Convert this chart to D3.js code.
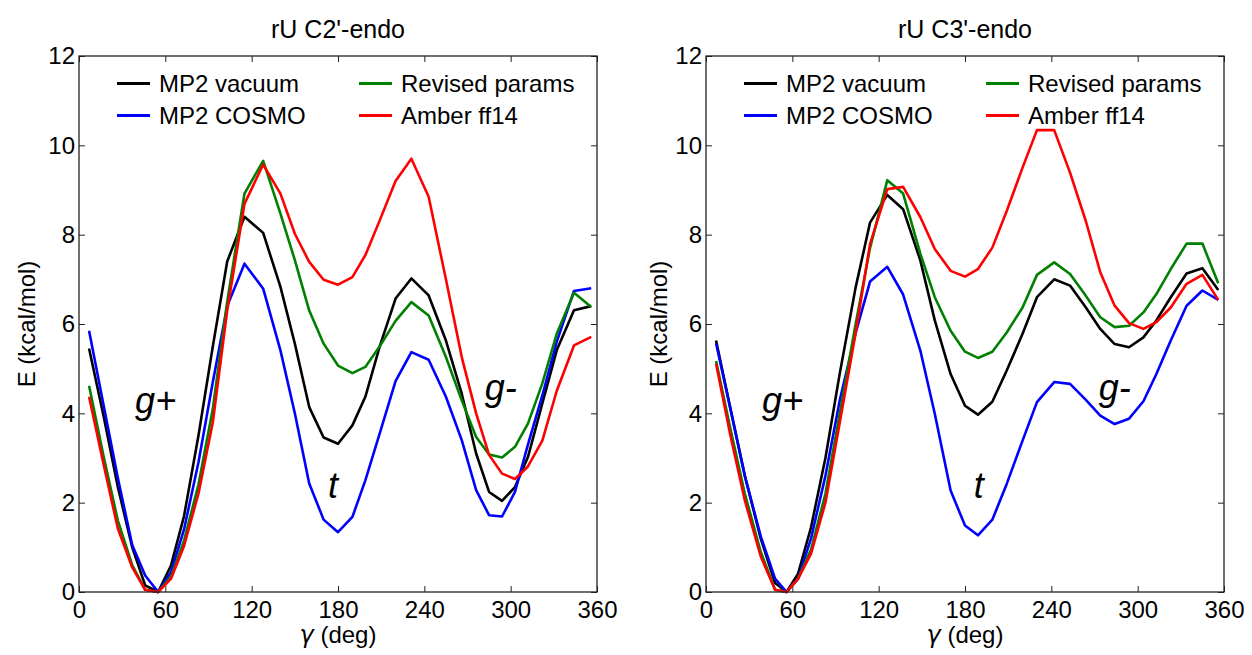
<!DOCTYPE html>
<html>
<head>
<meta charset="utf-8">
<script src="https://cdn.jsdelivr.net/npm/d3@7"></script>
<style>
  body { margin: 0; background: #fff; }
  text { font-family: "Liberation Sans", Arial, sans-serif; }
</style>
</head>
<body>
<div id="chart"></div>
<script>
var width = 1252,
    height = 655;

// gamma grid and energies (kcal/mol)
var gammaC2 = [7, 17, 27, 37, 46, 55, 64, 73, 83, 93, 103, 115, 128, 140, 150, 160, 170, 180, 190, 199,
               209, 220, 231, 243, 255, 266, 276, 285, 294, 303, 312, 322, 332, 344, 356];
var vacuumC2 = [5.45, 3.95, 2.35, 1.0, 0.15, 0.0, 0.6, 1.7, 3.5, 5.5, 7.4, 8.4, 8.04, 6.83, 5.56, 4.14, 3.46, 3.32, 3.73, 4.37,
                5.5, 6.57, 7.02, 6.64, 5.63, 4.44, 3.1, 2.24, 2.04, 2.35, 3.02, 4.22, 5.41, 6.31, 6.4];
var cosmoC2 = [5.85, 4.2, 2.55, 1.05, 0.37, 0.0, 0.45, 1.4, 2.9, 4.7, 6.4, 7.35, 6.79, 5.41, 4.0, 2.43, 1.62, 1.34, 1.68, 2.5,
               3.55, 4.72, 5.37, 5.2, 4.37, 3.4, 2.28, 1.72, 1.69, 2.24, 3.3, 4.4, 5.6, 6.74, 6.8];
var revisedC2 = [4.62, 3.05, 1.6, 0.6, 0.05, 0.0, 0.35, 1.15, 2.4, 4.1, 6.5, 8.92, 9.65, 8.47, 7.43, 6.3, 5.56, 5.07, 4.9, 5.04,
                 5.5, 6.07, 6.49, 6.19, 5.26, 4.29, 3.47, 3.08, 3.01, 3.25, 3.77, 4.67, 5.78, 6.7, 6.38];
var amberC2 = [4.37, 2.87, 1.42, 0.55, 0.05, 0.0, 0.3, 1.03, 2.2, 3.8, 6.3, 8.69, 9.57, 8.92, 8.02, 7.39, 6.99, 6.88, 7.05, 7.54,
               8.32, 9.2, 9.7, 8.85, 7.0, 5.26, 4.0, 3.07, 2.65, 2.53, 2.81, 3.39, 4.5, 5.52, 5.71];

var gammaC3 = [7, 17, 27, 38, 48, 56, 64, 73, 83, 93, 104, 114, 126, 137, 149, 159, 170, 180, 189, 199,
               209, 220, 230, 242, 253, 264, 274, 284, 294, 304, 313, 323, 334, 345, 356];
var vacuumC3 = [5.63, 4.1, 2.6, 1.2, 0.2, 0.0, 0.41, 1.45, 3.0, 4.9, 6.82, 8.27, 8.89, 8.57, 7.42, 6.08, 4.88, 4.17, 3.97, 4.26,
                4.96, 5.78, 6.6, 7.0, 6.86, 6.37, 5.89, 5.55, 5.48, 5.7, 6.08, 6.6, 7.13, 7.25, 6.76];
var cosmoC3 = [5.57, 4.1, 2.6, 1.25, 0.3, 0.0, 0.3, 1.2, 2.6, 4.3, 5.8, 6.95, 7.28, 6.66, 5.4, 3.99, 2.27, 1.49, 1.27, 1.62,
               2.42, 3.39, 4.25, 4.7, 4.66, 4.3, 3.95, 3.76, 3.88, 4.27, 4.88, 5.63, 6.41, 6.75, 6.54];
var revisedC3 = [5.17, 3.65, 2.2, 0.9, 0.05, 0.0, 0.3, 0.95, 2.2, 4.0, 6.0, 7.7, 9.22, 8.92, 7.57, 6.6, 5.85, 5.38, 5.24, 5.38,
                 5.81, 6.37, 7.1, 7.38, 7.12, 6.63, 6.15, 5.93, 5.96, 6.26, 6.67, 7.23, 7.8, 7.8, 6.91];
var amberC3 = [5.11, 3.5, 2.05, 0.8, 0.05, 0.0, 0.3, 0.86, 2.0, 3.8, 5.8, 7.79, 9.02, 9.07, 8.39, 7.68, 7.19, 7.06, 7.23, 7.71,
               8.53, 9.5, 10.34, 10.34, 9.39, 8.3, 7.16, 6.41, 6.02, 5.89, 6.04, 6.37, 6.9, 7.1, 6.54];

var seriesNames = ["MP2 vacuum", "MP2 COSMO", "Revised params", "Amber ff14"];
var seriesColors = ["#000000", "#0000ff", "#008000", "#ff0000"];
var xTicks = [0, 60, 120, 180, 240, 300, 360];
var yTicks = [0, 2, 4, 6, 8, 10, 12];

// region labels: [text, gamma, E]
var notesC2 = [["g+", 39, 4.0], ["t", 173, 2.1], ["g-", 282, 4.3]];
var notesC3 = [["g+", 39, 4.0], ["t", 186, 2.1], ["g-", 273, 4.3]];

var svg = d3.select("#chart").append("svg")
    .attr("width", width)
    .attr("height", height)
    .style("background-color", "white");

var pw = 518,
    ph = 536,
    marginTop = 56;

function drawPanel(left, title, gamma, series, notes, ylabX) {
    var x = d3.scaleLinear().domain([0, 360]).range([0, pw]);
    var y = d3.scaleLinear().domain([0, 12]).range([ph, 0]);

    var g = svg.append("g").attr("transform", "translate(" + left + "," + marginTop + ")");

    // ticks on all four sides, pointing in
    var axB = g.append("g").attr("transform", "translate(0," + ph + ")")
        .call(d3.axisBottom(x).tickValues(xTicks).tickSizeInner(-6).tickSizeOuter(0).tickPadding(9));
    var axT = g.append("g")
        .call(d3.axisTop(x).tickValues(xTicks).tickSizeInner(-6).tickSizeOuter(0).tickFormat(""));
    var axL = g.append("g")
        .call(d3.axisLeft(y).tickValues(yTicks).tickSizeInner(-6).tickSizeOuter(0).tickPadding(4));
    var axR = g.append("g").attr("transform", "translate(" + pw + ",0)")
        .call(d3.axisRight(y).tickValues(yTicks).tickSizeInner(-6).tickSizeOuter(0).tickFormat(""));

    [axB, axT, axL, axR].forEach(function(a) {
        a.select(".domain").remove();
        a.attr("font-family", null).attr("font-size", null);
        a.selectAll("line").attr("stroke", "#222").attr("stroke-width", 1);
        a.selectAll("text").style("font-size", "24px").attr("fill", "#000");
    });

    var line = d3.line()
        .x(function(d, i) { return x(gamma[i]); })
        .y(function(d) { return y(d); });

    series.forEach(function(s, k) {
        g.append("path")
            .attr("d", line(s))
            .attr("fill", "none")
            .attr("stroke", seriesColors[k])
            .attr("stroke-width", 2.6)
            .attr("stroke-linejoin", "round");
    });

    g.append("rect")
        .attr("width", pw)
        .attr("height", ph)
        .attr("fill", "none")
        .attr("stroke", "#222")
        .attr("stroke-width", 1.3);

    // legend, two columns
    seriesNames.forEach(function(name, k) {
        var col = Math.floor(k / 2),
            row = k % 2;
        var lx = col === 0 ? 38 : 280,
            ly = 27.5 + row * 32;
        g.append("line")
            .attr("x1", lx).attr("x2", lx + 33)
            .attr("y1", ly).attr("y2", ly)
            .attr("stroke", seriesColors[k])
            .attr("stroke-width", 2.8);
        g.append("text")
            .attr("x", lx + 42)
            .attr("y", ly + 8.5)
            .style("font-size", "24px")
            .text(name);
    });

    notes.forEach(function(n) {
        g.append("text")
            .attr("x", x(n[1]))
            .attr("y", y(n[2]))
            .style("font-size", "36px")
            .style("font-style", "italic")
            .text(n[0]);
    });

    g.append("text")
        .attr("x", pw / 2)
        .attr("y", -18)
        .attr("text-anchor", "middle")
        .style("font-size", "25px")
        .text(title);

    var xl = g.append("text")
        .attr("x", pw / 2)
        .attr("y", ph + 51)
        .attr("text-anchor", "middle")
        .style("font-size", "24px");
    xl.append("tspan").style("font-style", "italic").style("font-family", "'DejaVu Sans'").text("\u03b3");
    xl.append("tspan").text(" (deg)");

    g.append("text")
        .attr("transform", "translate(" + ylabX + "," + (ph / 2) + ") rotate(-90)")
        .attr("text-anchor", "middle")
        .style("font-size", "24px")
        .text("E (kcal/mol)");
}

drawPanel(79, "rU C2'-endo", gammaC2, [vacuumC2, cosmoC2, revisedC2, amberC2], notesC2, -44);
drawPanel(706, "rU C3'-endo", gammaC3, [vacuumC3, cosmoC3, revisedC3, amberC3], notesC3, -39);
</script>
</body>
</html>
